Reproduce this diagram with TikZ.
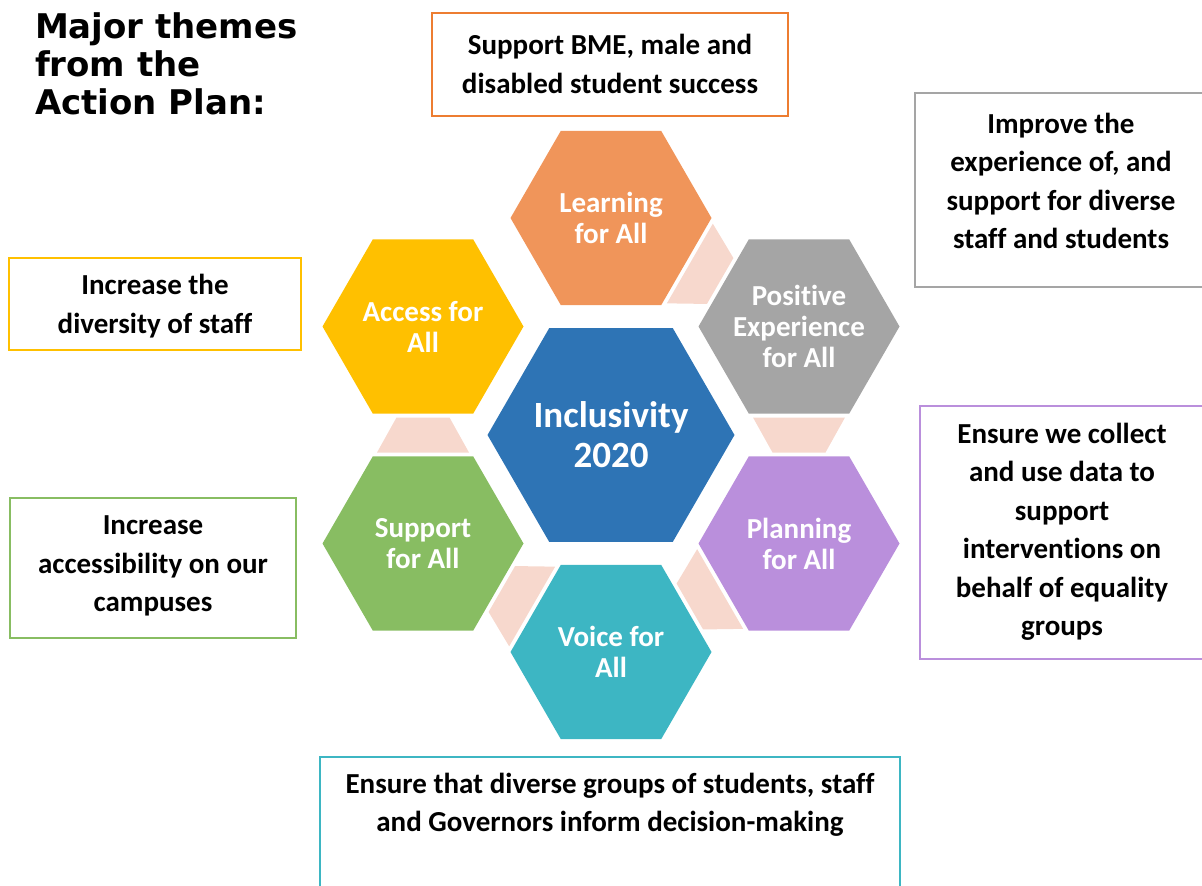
\documentclass[tikz,border=0pt]{standalone}
\usepackage{fontspec}
\setmainfont{Carlito}[Ligatures=NoCommon]
\newfontfamily\headfont{DejaVu Sans}
\usetikzlibrary{shapes.geometric,calc}
\definecolor{IncBlue}{HTML}{2E74B5}
\definecolor{IncOrange}{HTML}{F0955A}
\definecolor{IncOrangeLine}{HTML}{ED7D31}
\definecolor{IncYellow}{HTML}{FFC000}
\definecolor{IncGray}{HTML}{A5A5A5}
\definecolor{IncGreen}{HTML}{88BD62}
\definecolor{IncPurple}{HTML}{BA8FDC}
\definecolor{IncTeal}{HTML}{3DB6C3}
\definecolor{IncPink}{HTML}{F7D8CD}

\begin{document}
\begin{tikzpicture}[x=1pt,y=-1pt,line width=2pt,
  hexa/.style={regular polygon,regular polygon sides=6,minimum size=201pt,
    inner sep=-40pt,outer sep=0pt,fill=#1,text=white,align=center,
    font=\bfseries\fontsize{29}{31}\selectfont},
  note/.style={align=center,font=\bfseries\fontsize{29}{38.5}\selectfont}]
  \useasboundingbox (0,0) rectangle (1202,886);

  \node[anchor=north west,inner sep=0pt,align=left,
    font=\headfont\bfseries\fontsize{34}{38}\selectfont] (title) at (34,12)
    {Major themes\\from the\\Action Plan:};

  \node[hexa=IncBlue,minimum size=247pt,font=\bfseries\fontsize{37}{40}\selectfont]
    (core) at (611,435) {Inclusivity\\2020};
  \node[hexa=IncOrange] (learn) at (611,218) {Learning\\for All};
  \node[hexa=IncYellow] (access) at (423,326.5) {Access for\\All};
  \node[hexa=IncGray] (posi) at (799,326.5) {Positive\\Experience\\for All};
  \node[hexa=IncGreen] (supp) at (423,543.5) {Support\\for All};
  \node[hexa=IncPurple] (plan) at (799,543.5) {Planning\\for All};
  \node[hexa=IncTeal] (voice) at (611,652) {Voice for\\All};

  \foreach \a/\b in {learn/posi,posi/plan,plan/voice,voice/supp,supp/access}{
    \coordinate (m) at ($(\a)!0.5!(\b)$);
    \coordinate (wc) at ($(m)!17.5pt!(\a)$);
    \coordinate (nc) at ($(m)!17.5pt!(\b)$);
    \fill[IncPink] ($(wc)!46pt!90:(m)$) -- ($(nc)!26.5pt!-90:(m)$)
      -- ($(nc)!26.5pt!90:(m)$) -- ($(wc)!46pt!-90:(m)$) -- cycle;
  }

  \draw[IncOrangeLine] (432,13) rectangle (788,116);
  \draw[IncGray] (915,93) rectangle (1208,287);
  \draw[IncYellow] (9,258) rectangle (301,350);
  \draw[IncPurple] (920,406) rectangle (1208,659);
  \draw[IncGreen] (10,498) rectangle (296,638);
  \draw[IncTeal] (320,757) rectangle (900,900);

  \node[note] (learnnote) at (610,64) {Support BME, male and\\disabled student success};
  \node[note] (posinote) at (1061,181) {Improve the\\experience of, and\\support for diverse\\staff and students};
  \node[note] (accessnote) at (155,306) {Increase the\\diversity of staff};
  \node[note] (plannote) at (1062,532) {Ensure we collect\\and use data to\\support\\interventions on\\behalf of equality\\groups};
  \node[note] (suppnote) at (153,566) {Increase\\accessibility on our\\campuses};
  \node[note] (voicenote) at (610,805) {Ensure that diverse groups of students, staff\\and Governors inform decision-making};
\end{tikzpicture}
\end{document}
